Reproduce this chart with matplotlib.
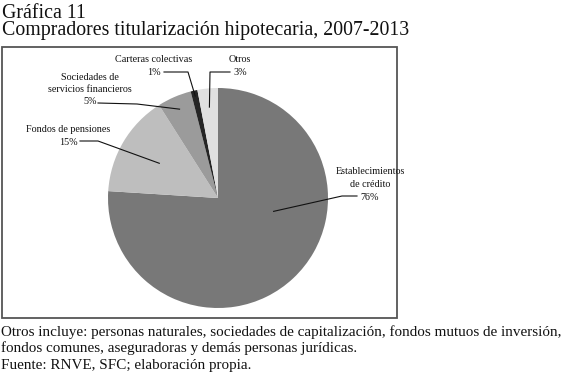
import matplotlib
matplotlib.use("Agg")
import matplotlib.pyplot as plt
from matplotlib.patches import Rectangle
from matplotlib.lines import Line2D
import numpy as np

# Data
categories = ["Establecimientos\nde crédito", "Fondos de pensiones", "Sociedades de\nservicios financieros",
              "Carteras colectivas", "Otros"]
values = [76, 15, 5, 1, 3]
pct_labels = ["76%", "15%", "5%", "1%", "3%"]
colors = ["#787878", "#bebebe", "#9b9b9b", "#252525", "#e0e0e0"]

title1 = "Gráfica 11"
title2 = "Compradores titularización hipotecaria, 2007-2013"
notes = ["Otros incluye: personas naturales, sociedades de capitalización, fondos mutuos de inversión,",
         "fondos comunes, aseguradoras y demás personas jurídicas.",
         "Fuente: RNVE, SFC; elaboración propia."]

W, H = 580, 373
plt.rcParams['font.family'] = ['Liberation Serif', 'DejaVu Serif']
fig = plt.figure(figsize=(W / 100, H / 100), dpi=100)

def fx(x):
    return x / W

def fy(y):
    return 1 - y / H

# Titles
fig.text(fx(2), fy(13), title1, fontsize=14.3, va='center', ha='left', color='#111')
fig.text(fx(2), fy(31), title2, fontsize=14.3, va='center', ha='left', color='#111')

# Frame
fig.add_artist(Rectangle((fx(2), fy(318)), fx(395), 271 / H, transform=fig.transFigure,
                         fill=False, edgecolor='#555555', lw=1.3))

# Pie
cx, cy, r = 218, 198, 110
ax = fig.add_axes([fx(cx - r), fy(cy + r), fx(2 * r), 2 * r / H])
wedges, _ = ax.pie(values, colors=colors, startangle=90, counterclock=False,
                   wedgeprops=dict(linewidth=0))
ax.set_xlim(-1, 1)
ax.set_ylim(-1, 1)
ax.set_aspect('equal')
ax.axis('off')

# Label layout (pixels): text center x, first line y, leader start & kink, end radius fraction
label_layout = [
    dict(x=370, y=172, start=(357, 196), kink=(342, 196), rf=0.52, ang=-13.5),
    dict(x=68, y=130, start=(80, 141), kink=(98, 141), rf=0.62, ang=None),
    dict(x=90, y=77, start=(98, 103), kink=(137, 104), rf=0.88, ang=None),
    dict(x=154, y=60, start=(164, 72), kink=(188, 72), rf=0.95, ang=None),
    dict(x=240, y=60, start=(230, 72), kink=(210, 72), rf=0.83, ang=None),
]

fs = 7.3
lh = 12.5
for w, cat, pct, lay in zip(wedges, categories, pct_labels, label_layout):
    lines = cat.split("\n") + [pct]
    for i, ln in enumerate(lines):
        fig.text(fx(lay['x']), fy(lay['y'] + i * lh), ln, fontsize=fs, ha='center', va='center',
                 color='#111')
    ang = lay['ang'] if lay['ang'] is not None else 0.5 * (w.theta1 + w.theta2)
    ex = cx + r * lay['rf'] * np.cos(np.radians(ang))
    ey = cy - r * lay['rf'] * np.sin(np.radians(ang))
    xs = [lay['start'][0], lay['kink'][0], ex]
    ys = [lay['start'][1], lay['kink'][1], ey]
    fig.add_artist(Line2D([fx(v) for v in xs], [fy(v) for v in ys], transform=fig.transFigure,
                          color='#111', lw=0.8))

# Notes
for i, t in enumerate(notes):
    fig.text(fx(1), fy(332 + i * 16.5), t, fontsize=10.9, va='center', ha='left', color='#111')

fig.savefig("out.png", dpi=100)
